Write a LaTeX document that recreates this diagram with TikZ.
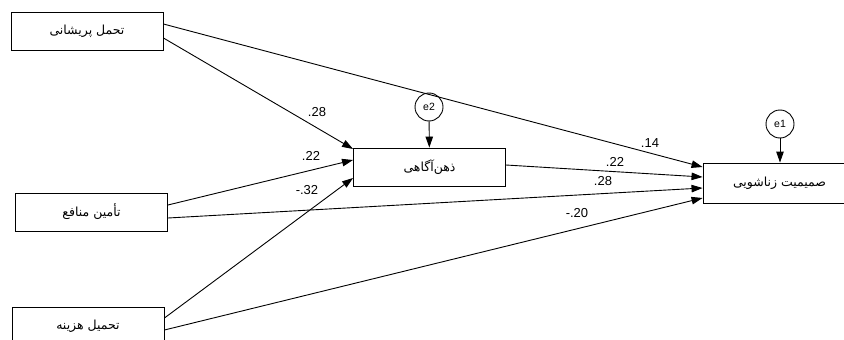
\documentclass[tikz,border=0pt]{standalone}
\usepackage{fontspec}
\setmainfont{Liberation Sans}
\newfontfamily\arabicfont[Script=Arabic]{DejaVu Sans}
\TeXXeTstate=1
\usetikzlibrary{arrows.meta,calc}
\begin{document}
\begin{tikzpicture}[x=1pt,y=-1pt,
  var/.style={draw,line width=0.9pt,minimum width=152pt,minimum height=38pt,inner sep=0pt,font=\arabicfont\fontsize{12.5}{14}\selectfont},
  err/.style={draw,circle,line width=0.9pt,minimum size=28pt,inner sep=0pt,font=\fontsize{10.5}{12}\selectfont},
  path/.style={line width=0.9pt,-{Triangle[length=11pt,width=7.5pt]}},
  coef/.style={inner sep=0pt,font=\fontsize{13}{15}\selectfont}]
\useasboundingbox (0,0) rectangle (844,340);
\node[var] (A) at (87,31) {\beginR تحمل پریشانی\endR};
\node[var] (B) at (91.5,212) {\beginR تأمین منافع\endR};
\node[var] (C) at (88,326) {\beginR تحمیل هزینه\endR};
\node[var] (M) at (429.5,167) {\beginR ذهن‌آگاهی\endR};
\node[var,minimum width=153pt,minimum height=40pt] (Y) at (779.5,183) {\beginR صمیمیت زناشویی\endR};
\node[err] (e2) at (429,107) {e2};
\node[err] (e1) at (780,124) {e1};
\draw[path] ([yshift=7pt]A.east) -- ([yshift=16pt]Y.west);
\draw[path] ([yshift=-7pt]A.east) -- ([yshift=18pt]M.west);
\draw[path] ([yshift=7pt]B.east) -- ([yshift=7pt]M.west);
\draw[path] ([yshift=-6pt]B.east) -- ([yshift=-5pt]Y.west);
\draw[path] ([yshift=8pt]C.east) -- ([yshift=-11pt]M.west);
\draw[path] ([yshift=-4pt]C.east) -- ([yshift=-15pt]Y.west);
\draw[path] ([yshift=2pt]M.east) -- ([yshift=6pt]Y.west);
\draw[path] (e2) -- (M);
\draw[path] (e1) -- (Y.north -| e1);
\node[coef] (l1) at (317,112) {.28};
\node[coef] (l2) at (311,156) {.22};
\node[coef] (l3) at (307,190) {-.32};
\node[coef] (l4) at (650,143) {.14};
\node[coef] (l5) at (615,162) {.22};
\node[coef] (l6) at (603,181) {.28};
\node[coef] (l7) at (577,213) {-.20};
\end{tikzpicture}
\end{document}
